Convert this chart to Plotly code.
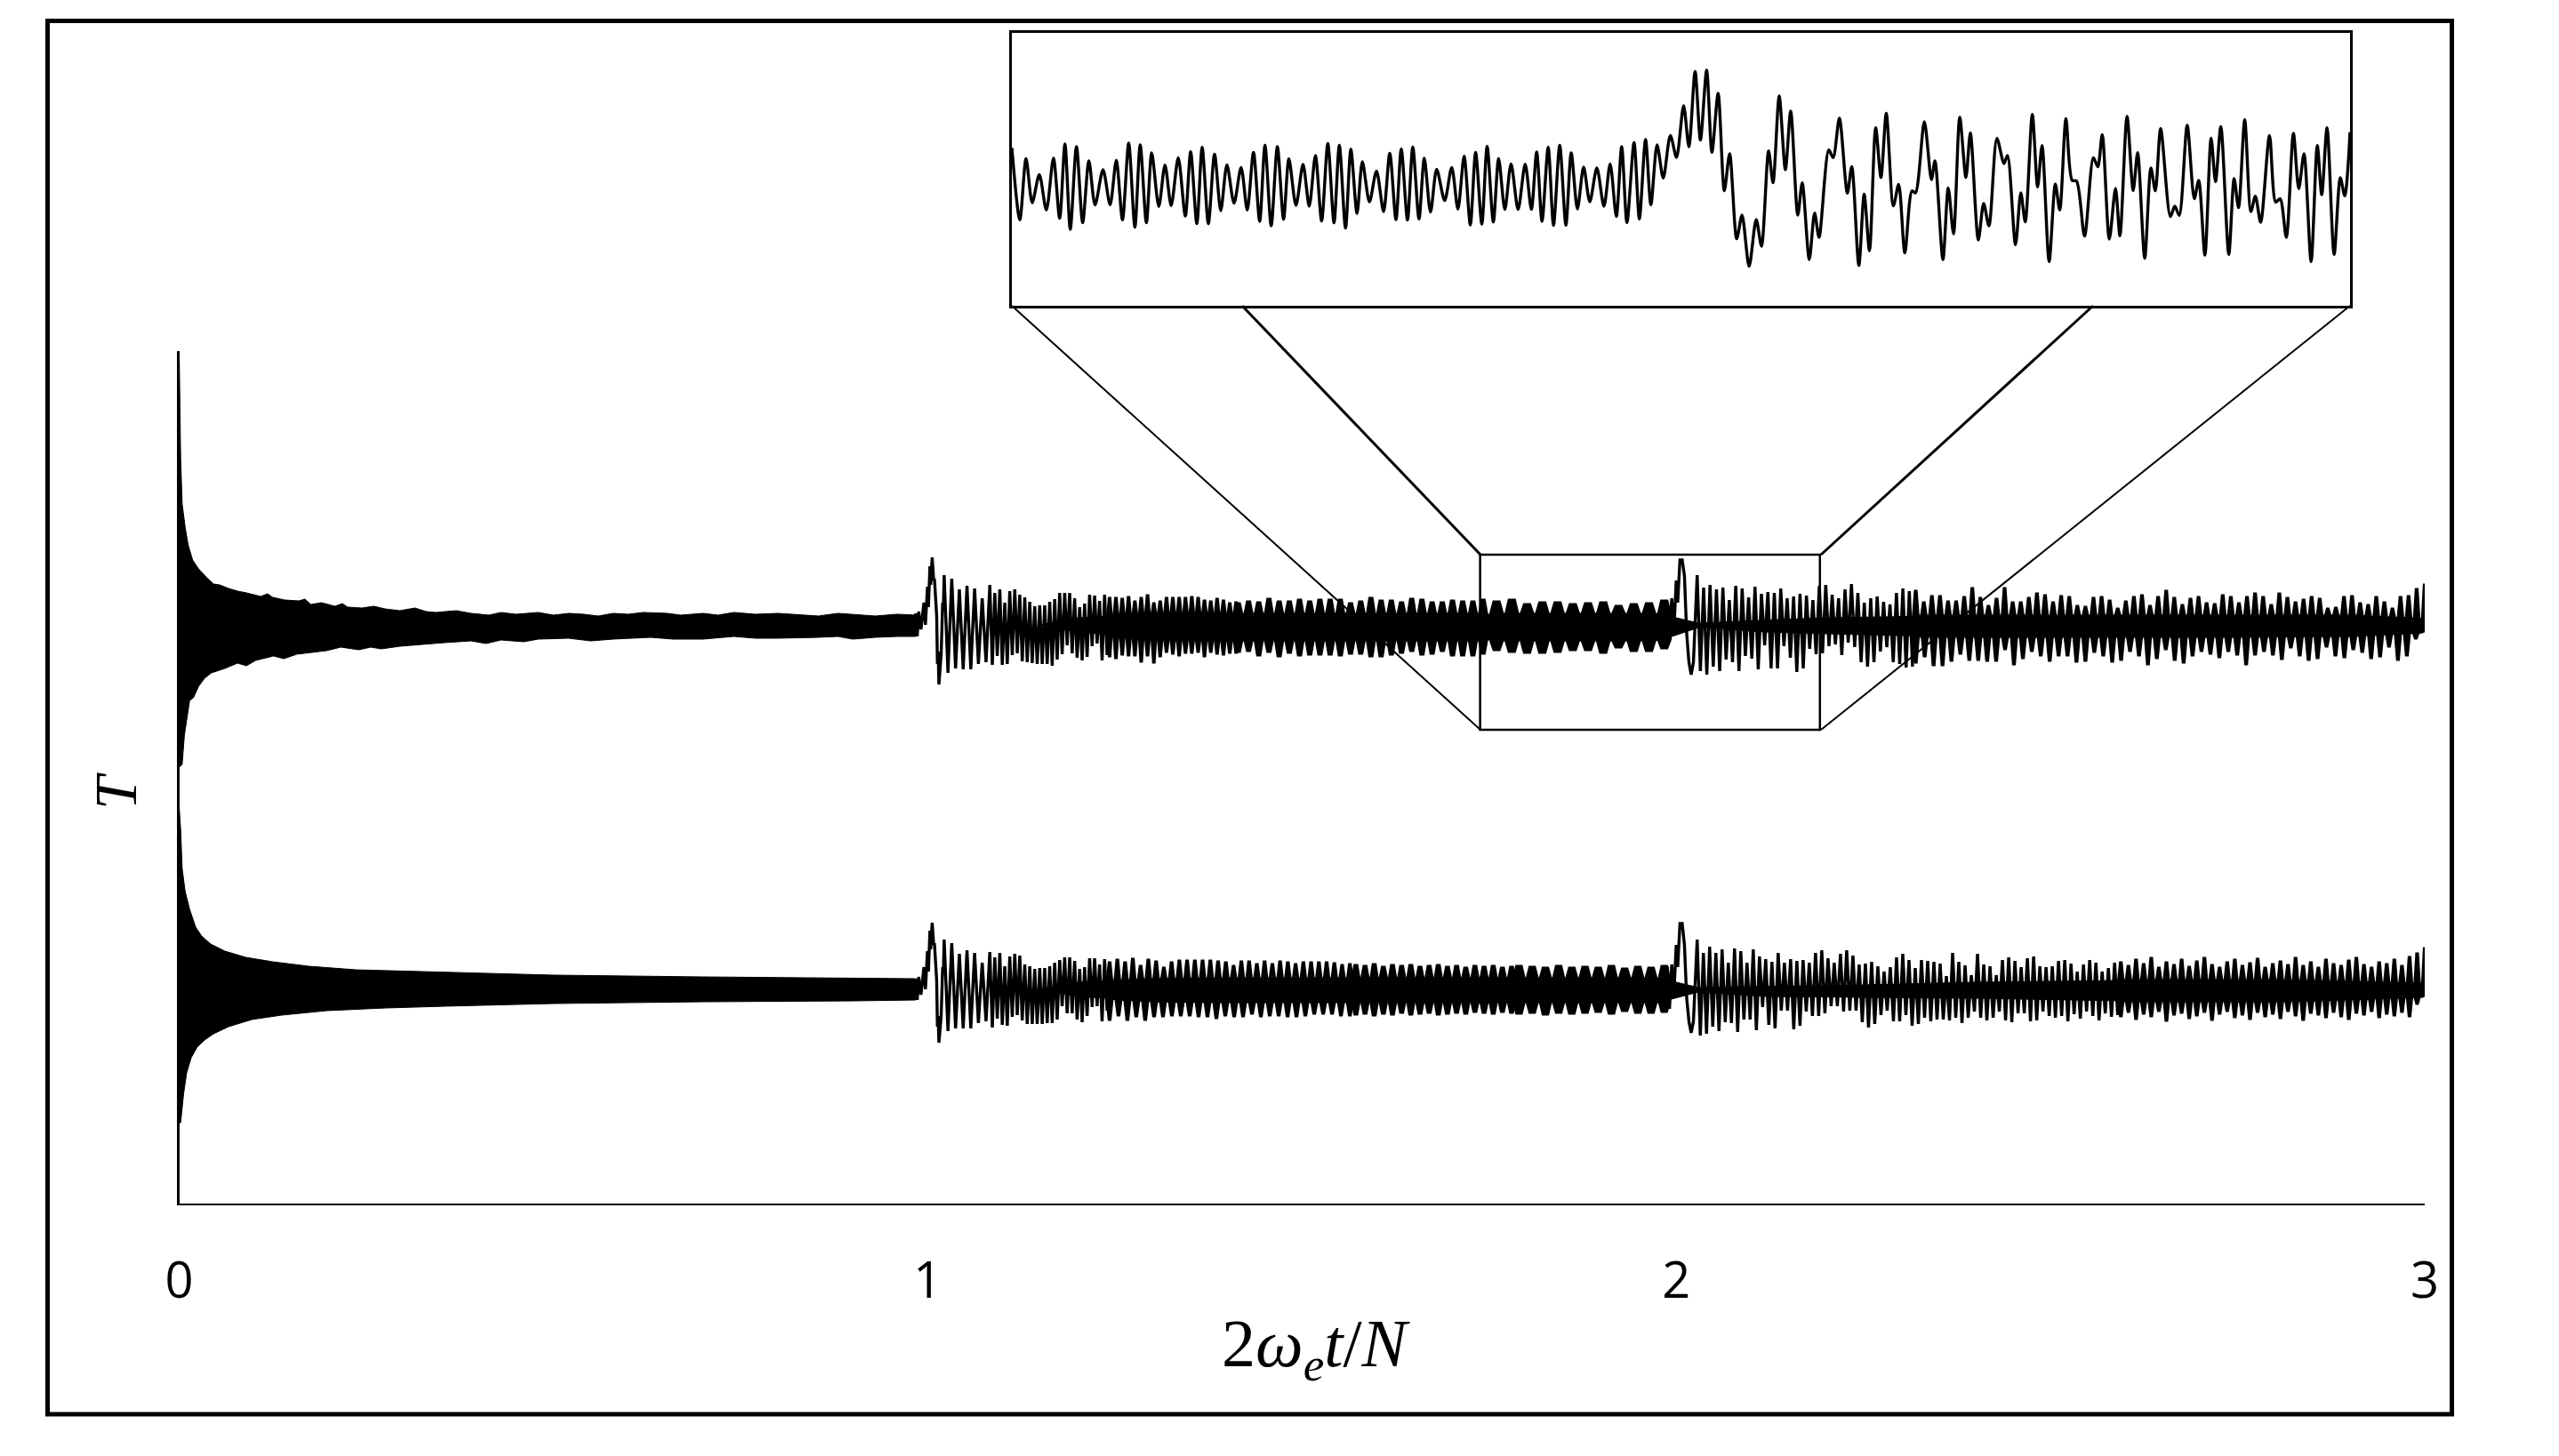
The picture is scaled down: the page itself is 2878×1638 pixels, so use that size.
import numpy as np
import plotly.graph_objects as go

W, H = 2878, 1638
tick_vals = [0, 1, 2, 3]
tick_text = ["0", "1", "2", "3"]

# ---- overall levels of the two curves (T axis runs 0..959)
upper_level = 651
lower_level = 241

# ---- decay envelopes, t < 1 (deviation from the level)
u_top_t = [0, .002, .004, .008, .012, .018, .026, .037, .046, .054, .066, .078, .09, .109, .118, .125, .141, .16, .168, .176, .19, .208, .218, .225, .244, .26, .275, .295, .315, .33, .343, .37, .39, .414, .43, .45, .48, .50, .521, .54, .56, .58, .6, .62, .652, .67, .7, .72, .741, .77, .8, .83, .854, .88, .9, .93, .959, .984]
u_top_d = [308, 188, 136, 110, 90, 73, 63, 53, 46, 45, 41, 38, 36, 32, 35, 31, 28, 27, 29, 23, 25, 21, 24, 20, 19, 21, 18, 16, 19, 15, 14, 16, 13, 11, 14, 12, 14, 11, 13, 12, 10, 13, 12, 14, 13, 11, 13, 11, 14, 12, 13, 11, 10, 13, 12, 10, 12, 11]
u_bot_t = [0, .002, .004, .007, .010, .014, .019, .026, .034, .043, .061, .078, .09, .102, .126, .14, .157, .175, .197, .216, .24, .256, .27, .295, .32, .354, .39, .41, .43, .46, .48, .52, .55, .58, .63, .66, .7, .741, .77, .8, .854, .88, .9, .93, .959, .984]
u_bot_d = [-160, -159, -157, -124, -105, -85, -82, -69, -60, -54, -49, -43, -46, -40, -35, -38, -33, -31, -29, -25, -28, -25, -27, -24, -22, -20, -18, -21, -17, -19, -16, -15, -18, -16, -14, -16, -16, -13, -15, -15, -14, -13, -16, -14, -13, -13]
l_top_t = [0, .002, .004, .008, .014, .022, .030, .042, .061, .089, .125, .173, .236, .355, .5, .7, .9, .984]
l_top_d = [205, 180, 136, 110, 90, 70, 60, 51, 43, 36, 31, 26, 22, 19, 16, 14, 13, 12]
l_bot_t = [0, .002, .006, .010, .016, .024, .034, .046, .066, .097, .137, .197, .275, .355, .5, .7, .9, .984]
l_bot_d = [-150, -150, -117, -94, -77, -65, -57, -50, -42, -34, -29, -24, -21, -19, -16, -14, -13, -12]

# ---- solid core of the oscillation, t > 1
u_core_t = [1.15, 1.20, 1.30, 1.42, 1.60, 1.74, 1.98, 2.03, 2.12, 2.20, 2.35, 2.5, 2.7, 2.9, 3.0]
u_core_top = [0, 8, 12, 12, 12, 12, 12, 2, 5, 8, 10, 10, 10, 10, 6]
u_core_bot = [0, -8, -15, -17, -17, -17, -17, -3, -8, -10, -13, -13, -13, -12, -8]
l_core_t = [1.15, 1.20, 1.30, 1.42, 1.60, 1.78, 1.98, 2.03, 2.12, 2.25, 2.4, 2.6, 2.8, 3.0]
l_core_top = [0, 8, 11, 12, 12, 12, 12, 2, 3, 5, 8, 10, 10, 6]
l_core_bot = [0, -8, -13, -14, -14, -14, -14, -3, -8, -9, -10, -13, -13, -8]

# ---- revivals near t = 1 and t = 2
u_on1_t = [.984, .986, .988, .991, .995, .997, .9997, 1.001, 1.003, 1.004, 1.006, 1.008, 1.009, 1.012, 1.013, 1.014, 1.015, 1.018, 1.020, 1.021]
u_on1_d = [13, -13, 15, -5, 25, 0, 43, 20, 66, 45, 76, 50, 52, 10, -44, -30, -67, -33, 25, 20]
u_on2_t = [1.984, 1.986, 1.988, 1.991, 1.994, 1.997, 2.000, 2.002, 2.005, 2.008, 2.011, 2.014, 2.017, 2.020, 2.023, 2.026]
u_on2_d = [27, -26, 26, -18, 30, -5, 50, 25, 73, 73, 55, -10, -42, -56, -42, 20]
l_on1_t = [.984, .986, .988, .991, .995, .997, .9997, 1.001, 1.003, 1.004, 1.006, 1.008, 1.009, 1.012, 1.013, 1.014, 1.015, 1.018, 1.020, 1.021]
l_on1_d = [12, -12, 14, -6, 25, 0, 43, 20, 66, 45, 75, 50, 52, 10, -42, -30, -60, -30, 25, 20]
l_on2_t = [1.984, 1.986, 1.988, 1.991, 1.994, 1.997, 2.000, 2.002, 2.005, 2.008, 2.011, 2.014, 2.017, 2.020, 2.023, 2.026]
l_on2_d = [24, -23, 26, -22, 28, -5, 50, 25, 74, 74, 50, -10, -36, -49, -36, 20]

# ---- upper curve extremes
ua1_p = [56, 52, 40, 44, 41, 30]
ua1_n = [-54, -49, -50, -50, -44, -42]
ua2_p = [45, 36, 40, 25, 38, 40, 34, 31, 26, 21, 22, 22, 26, 29, 36, 36, 36, 30, 20, 24, 34, 33, 27, 34]
ua2_n = [-45, -35, -45, -44, -34, -32, -41, -42, -43, -44, -44, -44, -46, -39, -33, -23, -32, -37, -40, -36, -24, -21, -40, -34]
ub_p = [30, 30, 29, 31, 26, 30, 33, 24, 26, 30, 30, 30, 30, 31, 30, 27, 26, 29, 27, 24, 25]
ub_n = [-35, -37, -33, -34, -34, -41, -34, -42, -35, -30, -32, -34, -31, -31, -30, -35, -30, -32, -33, -31, -31]
uc_p = [24, 26, 25, 29, 26, 26, 28, 26, 28, 28, 28, 24, 26, 30, 27, 27, 25, 29, 28, 25, 25, 27, 26, 26, 28]
uc_n = [-30, -29, -34, -30, -35, -31, -34, -33, -33, -33, -34, -32, -32, -35, -35, -33, -31, -29, -33, -32, -29, -34, -34, -34, -32]
ud_p = [26, 28, 23, 25, 25, 23, 24, 25, 21, 23, 24, 27]
ud_n = [-28, -30, -31, -31, -30, -28, -28, -31, -25, -29, -29, -26]
ue_p = [56, 42, 45, 40, 42, 28, 44, 41, 31, 43, 35, 37, 36, 41, 30, 32, 35, 33, 28, 44, 45, 34, 30, 40, 46, 36, 25, 30, 32, 26, 23, 36, 41, 38]
ue_n = [-52, -56, -47, -52, -39, -42, -52, -35, -38, -50, -23, -49, -49, -24, -37, -53, -49, -27, -33, -32, -24, -22, -34, -20, -25, -42, -47, -42, -30, -25, -42, -44, -48, -47]
uf_p = [38, 25, 32, 32, 26, 26, 31, 41, 30, 21, 29, 41, 25, 25, 30, 35, 33, 25, 32, 31, 21, 20, 30, 31, 27, 18, 26, 31, 33, 21, 31, 38, 30, 22, 29, 31, 24, 23, 33, 31, 24, 31, 35, 31, 22, 35, 30, 25, 28, 31, 29, 18, 19, 31, 32, 24, 22, 31, 25, 18, 31, 32, 40, 45]
uf_n = [-42, -35, -45, -45, -40, -32, -39, -39, -40, -40, -27, -44, -37, -29, -34, -40, -34, -34, -41, -40, -30, -34, -41, -39, -29, -34, -44, -37, -27, -39, -42, -34, -29, -32, -36, -29, -33, -44, -33, -29, -33, -38, -25, -34, -39, -37, -24, -34, -36, -27, -30, -37, -35, -24, -39, -34, -15, -5]

# ---- lower curve extremes
la1_p = [56, 52, 40, 44, 41, 30]
la1_n = [-47, -44, -44, -44, -38, -36]
la2_p = [42, 36, 41, 26, 37, 40, 38, 28, 26, 23, 24, 24, 26, 30, 33, 36, 36, 32, 23, 25, 35, 35, 28, 34]
la2_n = [-43, -33, -40, -41, -31, -29, -35, -39, -39, -39, -39, -38, -38, -34, -19, -27, -27, -34, -37, -30, -20, -19, -36, -24]
lb_p = [30, 33, 30, 34, 26, 33, 31, 24, 30, 32, 32, 32, 32, 32, 31, 30, 26, 31, 31, 28, 31, 28, 31, 30, 28, 30, 30, 30, 30, 29, 27, 28]
lb_n = [-34, -29, -34, -30, -34, -30, -30, -29, -29, -29, -30, -30, -32, -29, -30, -30, -27, -30, -29, -29, -30, -30, -29, -27, -27, -27, -29, -29]
lc_p = [27, 26, 28, 25, 27, 26, 27, 25, 26, 27, 25, 26, 24, 26, 25, 26, 24, 25]
lc_n = [-28, -27, -29, -27, -28, -26, -28, -27, -26, -28, -27, -26, -27, -25, -26, -27, -25, -26]
ld_p = [26, 25, 24, 26, 24, 25, 24, 26, 23, 25, 24, 26]
ld_n = [-27, -26, -28, -26, -27, -26, -25, -27, -24, -26, -26, -25]
le_p = [56, 41, 48, 41, 45, 30, 46, 43, 30, 45, 37, 34, 31, 41, 30, 34, 32, 33, 30, 41, 44, 35, 30, 40, 44, 38, 28, 29, 31, 26, 20, 25, 36, 40, 33, 24, 33, 32, 31, 29, 15, 41, 31, 27, 16, 40, 28, 26, 16, 33, 36, 32, 25, 35, 37, 26, 25, 26, 32, 33, 29, 20, 28, 33, 30, 20, 24, 30]
le_n = [-52, -50, -42, -47, -37, -38, -48, -34, -34, -46, -20, -40, -44, -24, -24, -45, -41, -25, -30, -30, -27, -19, -19, -25, -24, -24, -37, -43, -39, -29, -24, -36, -36, -29, -41, -39, -32, -36, -34, -34, -35, -32, -38, -32, -25, -32, -35, -32, -25, -35, -37, -27, -27, -36, -35, -25, -30, -32, -30, -36, -28, -33, -25, -30, -35, -27, -31, -29]
lf_p = [30, 26, 33, 28, 35, 24, 30, 27, 33, 25, 31, 35, 27, 24, 30, 33, 26, 29, 34, 24, 28, 31, 27, 35, 26, 30, 24, 33, 28, 26, 32, 35, 27, 24, 30, 28, 33, 26, 36, 40, 46]
lf_n = [-30, -25, -33, -27, -30, -24, -35, -28, -26, -32, -29, -25, -34, -27, -24, -31, -28, -33, -25, -30, -27, -32, -24, -29, -34, -26, -28, -31, -25, -30, -33, -26, -28, -24, -31, -27, -29, -25, -30, -16, -6]

# ---- inset: extremes of the curve around the revival at t = 2
inset_pos = [9,18,25,32,40,48,56,63,69,75,82,89,96,103,112,120,127,134,141,148,154,161,167,175,182,189,197,205,211,218,224,231,238,245,252,260,268,275,282,289,295,302,309,316,322,330,338,345,352,359,366,373,379,386,392,399,405,413,421,429,436,443,449,456,462,469,475,482,489,498,506,513,520,527,533,540,546,553,559,566,573,581,589,596,602,608,615,621,628,635,641,648,655,662,670,678,685,692,698,704,712,718,725,731,738,745,753,760,768,774,781,787,794,800,807,814,820,828,834,842,850,856,864,869,876,883,889,897,902,910,916,921,932,937,944,953,958,966,972,978,985,991,997,1005,1011,1018,1026,1030,1040,1048,1052,1061,1067,1073,1080,1087,1092,1101,1107,1113,1122,1130,1134,1143,1149,1154,1162,1168,1173,1181,1188,1193,1200,1207,1212,1221,1231,1236,1241,1249,1256,1261,1269,1276,1281,1289,1296,1301,1307,1318,1323,1328,1337,1345,1350,1357,1364,1369,1375,1384,1390,1395,1402,1409,1414,1420,1430,1437,1442,1449,1457,1463,1469,1477,1484,1489,1495,1503,1510,1515,1521]
inset_T = [560,317,524,375,470,350,525,322,573,285,564,307,516,367,486,368,518,317,576,292,570,307,543,362,502,365,527,330,547,304,562,304,539,348,503,373,494,350,545,312,569,297,564,319,523,366,504,363,534,313,575,307,569,289,555,339,513,378,482,345,542,318,556,316,563,320,525,343,488,382,494,353,532,300,545,303,565,310,524,352,506,352,505,352,546,312,562,298,569,299,543,354,495,378,492,363,506,328,564,308,578,320,588,368,570,458,602,528,702,564,818,586,822,545,744,415,540,253,333,160,318,228,550,442,735,486,684,333,442,183,340,258,553,527,660,407,497,163,404,213,628,460,677,364,437,205,415,408,648,453,516,183,425,270,663,460,611,249,372,297,592,507,534,233,408,310,673,428,568,176,438,350,659,450,448,262,527,496,605,252,423,263,666,416,544,187,492,415,625,328,363,332,636,388,450,198,593,446,632,200,456,358,655,345,397,309,602,377,388,258,609,422,540,176,568,402,628,200,459,398,613]


def zigzag(t0, t1, peaks, troughs):
    """Alternate the read peaks and troughs evenly along [t0, t1]."""
    n = min(len(peaks), len(troughs))
    d = (t1 - t0) / n
    xs, ys = [], []
    for i in range(n):
        xs += [t0 + i * d, t0 + (i + 0.5) * d]
        ys += [peaks[i], troughs[i]]
    return xs, ys


def comb_side(t0, t1, vals, core_t, core_v, w, b):
    ts = np.linspace(t0, t1, len(vals))
    period = (t1 - t0) / max(len(vals) - 1, 1)
    xs, ys = [], []
    for t, v in zip(ts, vals):
        base = float(np.interp(t, core_t, core_v))
        xs += [t - b * period, t - w * period, t + w * period, t + b * period]
        ys += [base, v, v, base]
    return xs, ys


def comb(level, t0, t1, peaks, troughs, core_t, core_top, core_bot, w=0.0, b=0.15):
    """Solid band with the read peaks and troughs standing out of its two edges."""
    xa, ya = comb_side(t0, t1, peaks, core_t, core_top, w, b)
    xb, yb = comb_side(t0, t1, troughs, core_t, core_bot, w, b)
    return xa + xb[::-1], [level + v for v in ya + yb[::-1]]


def build(level, parts):
    xs, ys = [], []
    for a, b in parts:
        xs += list(a)
        ys += [level + v for v in b]
    return xs, ys


def poly(level, t_top, d_top, t_bot, d_bot):
    x = list(t_top) + list(t_bot)[::-1]
    y = [level + v for v in d_top] + [level + v for v in d_bot][::-1]
    return x, y


u_x, u_y = build(upper_level, [
    (u_on1_t, u_on1_d),
    zigzag(1.022, 1.083, ua1_p, ua1_n),
    zigzag(1.083, 1.243, ua2_p, ua2_n),
])
u2_x, u2_y = build(upper_level, [
    (u_on2_t, u_on2_d),
    zigzag(2.028, 2.320, ue_p, ue_n),
])
l_x, l_y = build(lower_level, [
    (l_on1_t, l_on1_d),
    zigzag(1.022, 1.083, la1_p, la1_n),
    zigzag(1.083, 1.243, la2_p, la2_n),
])
l2_x, l2_y = build(lower_level, [
    (l_on2_t, l_on2_d),
    zigzag(2.028, 2.594, le_p, le_n),
])

u_kw = (u_core_t, u_core_top, u_core_bot)
l_kw = (l_core_t, l_core_top, l_core_bot)
combs = [
    comb(upper_level, 1.243, 1.412, ub_p, ub_n, *u_kw, w=0.06, b=0.30),
    comb(upper_level, 1.415, 1.742, uc_p, uc_n, *u_kw, w=0.12, b=0.36),
    comb(upper_level, 1.760, 1.984, ud_p, ud_n, *u_kw, w=0.18, b=0.40),
    comb(upper_level, 2.320, 3.0, uf_p, uf_n, *u_kw, w=0.06, b=0.30),
    comb(lower_level, 1.243, 1.564, lb_p, lb_n, *l_kw, w=0.06, b=0.30),
    comb(lower_level, 1.572, 1.78, lc_p, lc_n, *l_kw, w=0.12, b=0.36),
    comb(lower_level, 1.79, 1.984, ld_p, ld_n, *l_kw, w=0.18, b=0.40),
    comb(lower_level, 2.594, 3.0, lf_p, lf_n, *l_kw, w=0.06, b=0.30),
]

n_inset = min(len(inset_pos), len(inset_T))
inset_t = 1.738 + (np.array(inset_pos[:n_inset]) - 9) / 1512 * 0.454

fig = go.Figure()
BLACK = "#000000"
for lvl, a, b, c, d in [(upper_level, u_top_t, u_top_d, u_bot_t, u_bot_d),
                        (lower_level, l_top_t, l_top_d, l_bot_t, l_bot_d),
                        (upper_level, u_core_t, u_core_top, u_core_t, u_core_bot),
                        (lower_level, l_core_t, l_core_top, l_core_t, l_core_bot)]:
    px_, py_ = poly(lvl, a, b, c, d)
    fig.add_trace(go.Scatter(x=px_, y=py_, mode="lines", fill="toself", fillcolor=BLACK,
                             line=dict(color=BLACK, width=1), showlegend=False, hoverinfo="skip"))
for x_, y_ in combs:
    fig.add_trace(go.Scatter(x=x_, y=y_, mode="lines", fill="toself", fillcolor=BLACK,
                             line=dict(color=BLACK, width=3.2), showlegend=False, hoverinfo="skip"))
for x_, y_ in [(u_x, u_y), (u2_x, u2_y), (l_x, l_y), (l2_x, l2_y)]:
    fig.add_trace(go.Scatter(x=x_, y=y_, mode="lines", line=dict(color=BLACK, width=3.4),
                             showlegend=False, hoverinfo="skip"))
fig.add_trace(go.Scatter(x=inset_t, y=inset_T[:n_inset], xaxis="x2", yaxis="y2", mode="lines",
                         line=dict(color=BLACK, width=3.4, shape="spline", smoothing=0.8),
                         showlegend=False, hoverinfo="skip"))


def fx(p):
    return p / W


def fy(p):
    return 1 - p / H


shapes = [
    dict(type="rect", xref="paper", yref="paper", x0=fx(53.5), x1=fx(2757.5), y0=fy(23.5), y1=fy(1591),
         line=dict(color=BLACK, width=5), layer="above"),
    dict(type="rect", xref="x", yref="y", x0=1.738, x1=2.192, y0=533, y1=730,
         line=dict(color=BLACK, width=2.5), layer="above"),
]
for (a, b, c, d, wd) in [(1138, 344, 1665, 821, 2), (1397, 344, 1665, 624, 3),
                         (2354, 344, 2048, 624, 3), (2643, 344, 2048, 821, 2)]:
    shapes.append(dict(type="line", xref="paper", yref="paper", x0=fx(a), y0=fy(b), x1=fx(c), y1=fy(d),
                       line=dict(color=BLACK, width=wd), layer="above"))

fig.update_layout(
    width=W, height=H, margin=dict(l=0, r=0, t=0, b=0, autoexpand=False), paper_bgcolor="white",
    plot_bgcolor="rgba(0,0,0,0)", showlegend=False, shapes=shapes,
    xaxis=dict(domain=[fx(201.5), fx(2727)], range=[0, 3], tickvals=tick_vals, ticktext=tick_text,
               automargin=False, showgrid=False, zeroline=False, showline=True, linecolor=BLACK, linewidth=1.6,
               ticks="", tickfont=dict(family="Open Sans", size=56, color=BLACK), ticklabelstandoff=37),
    yaxis=dict(domain=[fy(1354), fy(395)], range=[0, 959], showticklabels=False, showgrid=False, automargin=False,
               zeroline=False, showline=True, linecolor=BLACK, linewidth=2.6, ticks=""),
    xaxis2=dict(domain=[fx(1138), fx(2643)], range=[1.738, 2.192], anchor="y2", showticklabels=False, automargin=False,
                showgrid=False, zeroline=False, showline=True, mirror=True, linecolor=BLACK, linewidth=2.5, ticks=""),
    yaxis2=dict(domain=[fy(344), fy(37)], range=[27, 948], anchor="x2", showticklabels=False, automargin=False,
                showgrid=False, zeroline=False, showline=True, mirror=True, linecolor=BLACK, linewidth=2.5, ticks=""),
    annotations=[
        dict(text="2<i>ω<sub>e</sub>t</i>/<i>N</i>", xref="paper", yref="paper", x=fx(1480), y=fy(1517),
             xanchor="center", yanchor="middle", showarrow=False,
             font=dict(family="Liberation Serif", size=76, color=BLACK)),
        dict(text="<i>T</i>", xref="paper", yref="paper", x=fx(130), y=fy(890), textangle=-90,
             xanchor="center", yanchor="middle", showarrow=False,
             font=dict(family="Liberation Serif", size=68, color=BLACK)),
    ],
)

fig.write_html("out.html", config={"displayModeBar": False}, post_script="document.body.style.margin='0';")
